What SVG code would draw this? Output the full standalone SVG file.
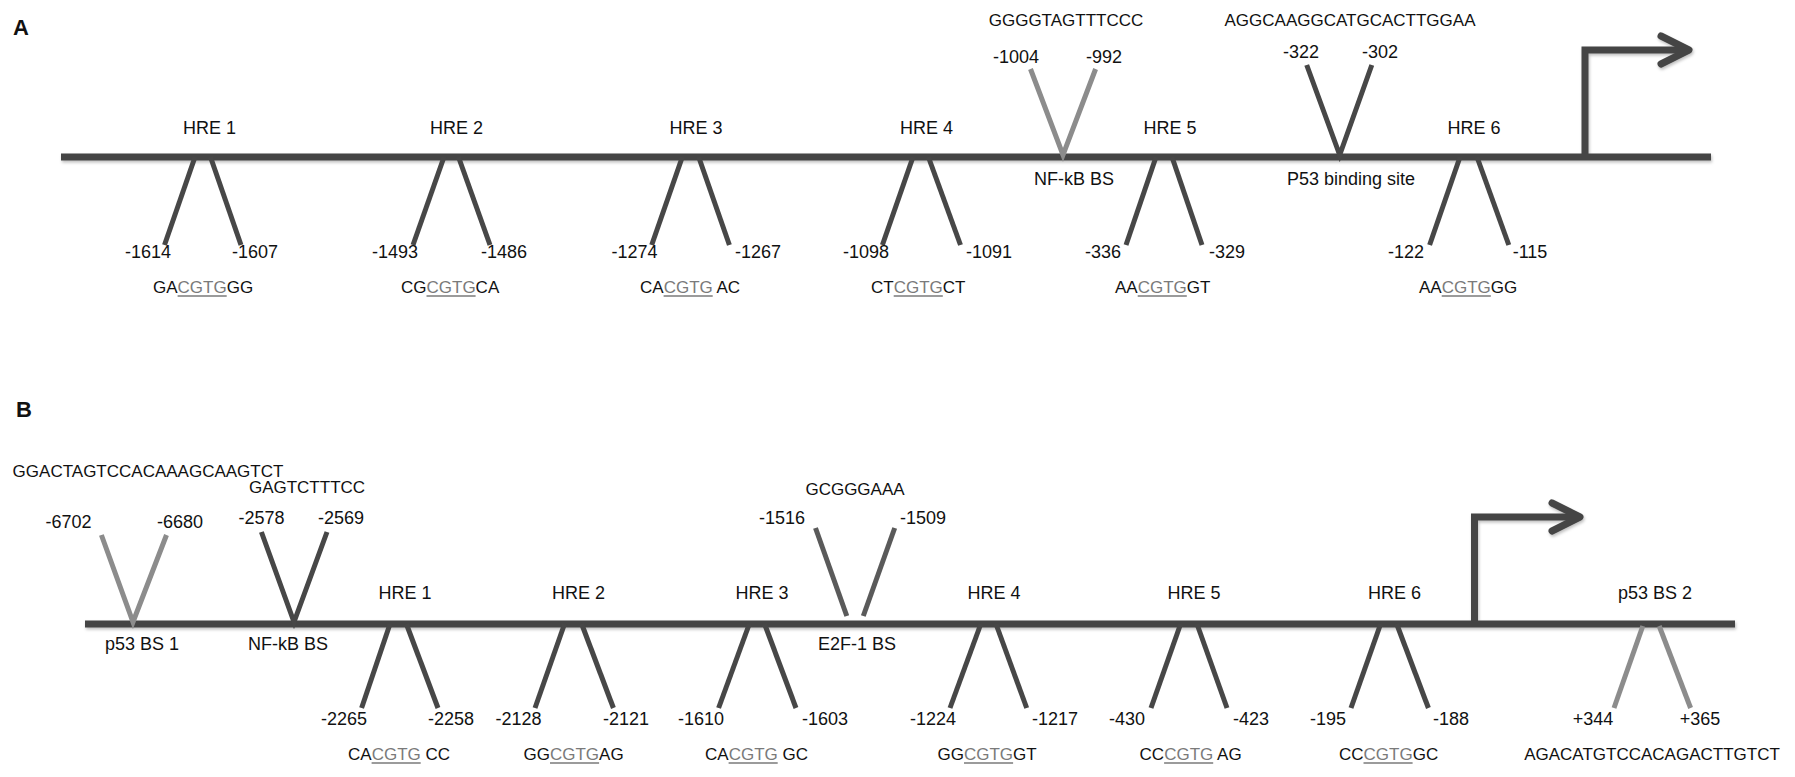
<svg xmlns="http://www.w3.org/2000/svg" width="1795" height="777" viewBox="0 0 1795 777">
<style>
text{font-family:"Liberation Sans",Arial,sans-serif;font-size:18px;fill:#111}
.s{font-size:17px}
.c{text-anchor:middle}
.g{fill:#7a7a7a}
.panel{font-size:22px;font-weight:bold}
.bb{stroke:#454545;stroke-width:7;fill:none}
.leg{stroke:#474747;stroke-width:5;fill:none}
.lg{stroke:#8c8c8c;stroke-width:5;fill:none}
.mg{stroke:#5a5a5a;stroke-width:5;fill:none}
.ul{stroke:#7a7a7a;stroke-width:1.5}
.arr{stroke:#454545;stroke-width:7;fill:none}
</style>
<defs>
<filter id="sh" x="-5%" y="-20%" width="110%" height="140%">
<feDropShadow dx="1" dy="2" stdDeviation="1.5" flood-color="#000" flood-opacity="0.25"/>
</filter>
</defs>
<rect width="1795" height="777" fill="#fff"/>

<text class="panel" x="13" y="35">A</text>
<text class="panel" x="16" y="417">B</text>

<g id="connectors" filter="url(#sh)">
<line class="bb" x1="61" y1="157" x2="1711" y2="157"/>
<line class="bb" x1="85" y1="624" x2="1735" y2="624"/>
<path class="arr" d="M1585 160 V50 H1686"/>
<path class="arr" stroke-linecap="round" stroke-linejoin="round" d="M1661 36 L1689 50 L1661 64"/>
<path class="arr" d="M1474.5 627 V517 H1578"/>
<path class="arr" stroke-linecap="round" stroke-linejoin="round" d="M1552 503 L1580 517 L1552 531"/>
</g>

<!-- Panel A -->
<g id="A-HRE1">
<line class="leg" x1="195" y1="157" x2="164.5" y2="245"/><line class="leg" x1="210.5" y1="157" x2="241" y2="245"/>
<text class="c" x="209.5" y="134">HRE 1</text>
<text class="c" x="148" y="258">-1614</text><text class="c" x="255" y="258">-1607</text>
<text class="s" x="153" y="293">GA<tspan class="g">CGTG</tspan>GG</text>
<line class="ul" x1="177.6" y1="296" x2="226.7" y2="296"/>
</g>
<g id="A-HRE2">
<line class="leg" x1="444" y1="157" x2="413" y2="245"/><line class="leg" x1="458.5" y1="157" x2="490" y2="245"/>
<text class="c" x="456.5" y="134">HRE 2</text>
<text class="c" x="395" y="258">-1493</text><text class="c" x="504" y="258">-1486</text>
<text class="s" x="401" y="293">CG<tspan class="g">CGTG</tspan>CA</text>
<line class="ul" x1="426.5" y1="296" x2="475.6" y2="296"/>
</g>
<g id="A-HRE3">
<line class="leg" x1="682.3" y1="157" x2="651.7" y2="245"/><line class="leg" x1="698.7" y1="157" x2="729.4" y2="245"/>
<text class="c" x="696" y="134">HRE 3</text>
<text class="c" x="634.5" y="258">-1274</text><text class="c" x="758" y="258">-1267</text>
<text class="s" x="640" y="293">CA<tspan class="g">CGTG</tspan> AC</text>
<line class="ul" x1="663.6" y1="296" x2="712.7" y2="296"/>
</g>
<g id="A-HRE4">
<line class="leg" x1="913" y1="157" x2="882.4" y2="245"/><line class="leg" x1="928.4" y1="157" x2="960.5" y2="245"/>
<text class="c" x="926.5" y="134">HRE 4</text>
<text class="c" x="866" y="258">-1098</text><text class="c" x="989" y="258">-1091</text>
<text class="s" x="871" y="293">CT<tspan class="g">CGTG</tspan>CT</text>
<line class="ul" x1="893.7" y1="296" x2="942.8" y2="296"/>
</g>
<g id="A-NFkB">
<path class="lg" d="M1030.5 69 L1063 155 L1095.6 69"/>
<text class="s c" x="1066" y="26">GGGGTAGTTTCCC</text>
<text class="c" x="1016" y="63">-1004</text><text class="c" x="1104" y="63">-992</text>
<text class="c" x="1074" y="185">NF-kB BS</text>
</g>
<g id="A-HRE5">
<line class="leg" x1="1156" y1="157" x2="1126" y2="245"/><line class="leg" x1="1172" y1="157" x2="1202" y2="245"/>
<text class="c" x="1170" y="134">HRE 5</text>
<text class="c" x="1103" y="258">-336</text><text class="c" x="1227" y="258">-329</text>
<text class="s" x="1115" y="293">AA<tspan class="g">CGTG</tspan>GT</text>
<line class="ul" x1="1137.7" y1="296" x2="1186.8" y2="296"/>
</g>
<g id="A-P53">
<path class="leg" d="M1306.7 65 L1339.7 155 L1371.8 65"/>
<text class="s c" x="1350" y="26">AGGCAAGGCATGCACTTGGAA</text>
<text class="c" x="1301" y="58">-322</text><text class="c" x="1380" y="58">-302</text>
<text class="c" x="1351" y="185">P53 binding site</text>
</g>
<g id="A-HRE6">
<line class="leg" x1="1460" y1="157" x2="1429.6" y2="245"/><line class="leg" x1="1477" y1="157" x2="1508.8" y2="245"/>
<text class="c" x="1474" y="134">HRE 6</text>
<text class="c" x="1406" y="258">-122</text><text class="c" x="1530" y="258">-115</text>
<text class="s" x="1419" y="293">AA<tspan class="g">CGTG</tspan>GG</text>
<line class="ul" x1="1441.7" y1="296" x2="1490.8" y2="296"/>
</g>

<!-- Panel B -->
<g id="B-p53BS1">
<path class="lg" d="M101.4 535 L133 622 L166.5 535"/>
<text class="s c" x="148" y="477">GGACTAGTCCACAAAGCAAGTCT</text>
<text class="c" x="68.5" y="528">-6702</text><text class="c" x="180" y="528">-6680</text>
<text class="c" x="142" y="650">p53 BS 1</text>
</g>
<g id="B-NFkB">
<path class="leg" d="M261.4 532 L294 622 L327 532"/>
<text class="s c" x="307" y="493">GAGTCTTTCC</text>
<text class="c" x="261.6" y="524">-2578</text><text class="c" x="341" y="524">-2569</text>
<text class="c" x="288" y="650">NF-kB BS</text>
</g>
<g id="B-HRE1">
<line class="leg" x1="390" y1="624" x2="361.6" y2="708"/><line class="leg" x1="406.4" y1="624" x2="438" y2="708"/>
<text class="c" x="405" y="599">HRE 1</text>
<text class="c" x="344" y="725">-2265</text><text class="c" x="451" y="725">-2258</text>
<text class="s" x="348" y="760">CA<tspan class="g">CGTG</tspan> CC</text>
<line class="ul" x1="371.6" y1="763" x2="420.7" y2="763"/>
</g>
<g id="B-HRE2">
<line class="leg" x1="564.5" y1="624" x2="535" y2="708"/><line class="leg" x1="581.7" y1="624" x2="613.4" y2="708"/>
<text class="c" x="578.5" y="599">HRE 2</text>
<text class="c" x="518.6" y="725">-2128</text><text class="c" x="626" y="725">-2121</text>
<text class="s" x="523.5" y="760">GG<tspan class="g">CGTG</tspan>AG</text>
<line class="ul" x1="550" y1="763" x2="599.1" y2="763"/>
</g>
<g id="B-HRE3">
<line class="leg" x1="749.3" y1="624" x2="718.6" y2="708"/><line class="leg" x1="764.6" y1="624" x2="796" y2="708"/>
<text class="c" x="762" y="599">HRE 3</text>
<text class="c" x="701" y="725">-1610</text><text class="c" x="825" y="725">-1603</text>
<text class="s" x="705" y="760">CA<tspan class="g">CGTG</tspan> GC</text>
<line class="ul" x1="728.6" y1="763" x2="777.7" y2="763"/>
</g>
<g id="B-E2F1">
<line class="mg" x1="815.5" y1="528" x2="846.8" y2="616"/><line class="mg" x1="894.7" y1="528" x2="863.3" y2="616"/>
<text class="s c" x="855" y="495">GCGGGAAA</text>
<text class="c" x="782" y="524">-1516</text><text class="c" x="923" y="524">-1509</text>
<text class="c" x="857" y="650">E2F-1 BS</text>
</g>
<g id="B-HRE4">
<line class="leg" x1="980.8" y1="624" x2="950" y2="708"/><line class="leg" x1="996" y1="624" x2="1026.7" y2="708"/>
<text class="c" x="994" y="599">HRE 4</text>
<text class="c" x="933" y="725">-1224</text><text class="c" x="1055" y="725">-1217</text>
<text class="s" x="937.5" y="760">GG<tspan class="g">CGTG</tspan>GT</text>
<line class="ul" x1="964" y1="763" x2="1013.1" y2="763"/>
</g>
<g id="B-HRE5">
<line class="leg" x1="1180.6" y1="624" x2="1151" y2="708"/><line class="leg" x1="1197" y1="624" x2="1227" y2="708"/>
<text class="c" x="1194" y="599">HRE 5</text>
<text class="c" x="1127" y="725">-430</text><text class="c" x="1251" y="725">-423</text>
<text class="s" x="1139.6" y="760">CC<tspan class="g">CGTG</tspan> AG</text>
<line class="ul" x1="1164.1" y1="763" x2="1213.2" y2="763"/>
</g>
<g id="B-HRE6">
<line class="leg" x1="1380.6" y1="624" x2="1351" y2="708"/><line class="leg" x1="1396.7" y1="624" x2="1428.4" y2="708"/>
<text class="c" x="1394.5" y="599">HRE 6</text>
<text class="c" x="1328" y="725">-195</text><text class="c" x="1451" y="725">-188</text>
<text class="s" x="1339" y="760">CC<tspan class="g">CGTG</tspan>GC</text>
<line class="ul" x1="1363.5" y1="763" x2="1412.6" y2="763"/>
</g>
<g id="B-p53BS2">
<line class="lg" x1="1642.8" y1="626" x2="1614" y2="708"/><line class="lg" x1="1659.2" y1="626" x2="1690.6" y2="708"/>
<text class="c" x="1655" y="599">p53 BS 2</text>
<text class="c" x="1593" y="725">+344</text><text class="c" x="1700" y="725">+365</text>
<text class="s c" x="1652" y="760">AGACATGTCCACAGACTTGTCT</text>
</g>
</svg>
